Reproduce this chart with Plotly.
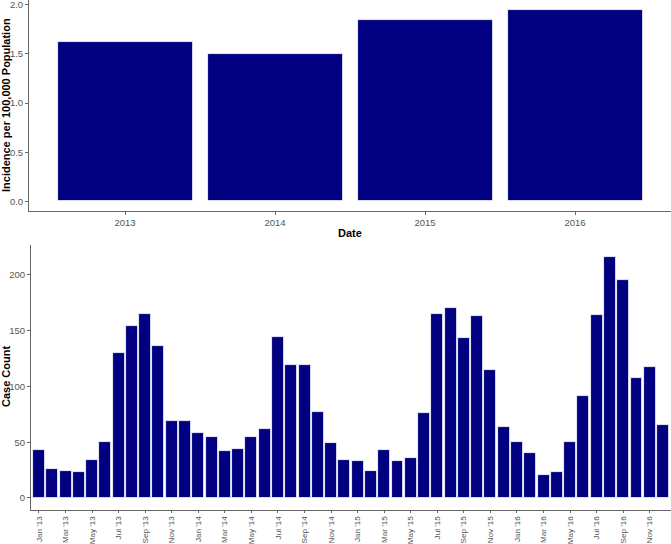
import plotly.graph_objects as go

# ---- data ----
years = ["2013", "2014", "2015", "2016"]
incidence = [1.62, 1.50, 1.84, 1.95]

month_names = ["Jan", "Feb", "Mar", "Apr", "May", "Jun",
               "Jul", "Aug", "Sep", "Oct", "Nov", "Dec"]
year_suffixes = ["13", "14", "15", "16"]
months = [f"{m} '{y}" for y in year_suffixes for m in month_names]
case_counts = [
    43, 26, 24, 23, 34, 50, 130, 154, 165, 136, 69, 69,
    58, 55, 42, 44, 55, 62, 144, 119, 119, 77, 49, 34,
    33, 24, 43, 33, 36, 76, 165, 170, 143, 163, 115, 64,
    50, 40, 21, 23, 50, 91, 164, 216, 195, 108, 117, 65,
]
tick_months = months[::2]

W, H = 671, 544
NAVY = "#000080"
TXT = "#555555"
AX = "#666666"
FONT = "Liberation Sans, Arial, sans-serif"

def px_x(p):
    return p / W

def px_y(p):
    return 1 - p / H

fig = go.Figure()
fig.add_trace(go.Bar(x=years, y=incidence, width=0.9,
                     marker=dict(color=NAVY, line=dict(color="white", width=0.8)),
                     xaxis="x", yaxis="y", showlegend=False))
fig.add_trace(go.Bar(x=months, y=case_counts, width=0.9,
                     marker=dict(color=NAVY, line=dict(color="white", width=0.8)),
                     xaxis="x2", yaxis="y2", showlegend=False))

def axis_common(size=9.5, ticklen=3):
    return dict(showgrid=False, zeroline=False, showline=True, linecolor=AX,
                linewidth=1, ticks="outside", ticklen=ticklen, tickcolor=AX,
                automargin=False, ticklabeloverflow="allow",
                tickfont=dict(family=FONT, size=size, color=TXT))

fig.update_layout(
    width=W, height=H,
    margin=dict(l=0, r=0, t=0, b=0, pad=0),
    paper_bgcolor="white", plot_bgcolor="white",
    font=dict(family=FONT),
    bargap=0,
    xaxis=dict(domain=[px_x(29), 1], anchor="y", type="category",
               range=[-0.64, 3.64], **axis_common()),
    yaxis=dict(domain=[px_y(211), 1], anchor="x", range=[-0.0975, 2.0475],
               tickvals=[0, 0.5, 1.0, 1.5, 2.0], tickformat=".1f", **axis_common()),
    xaxis2=dict(domain=[px_x(31), 1], anchor="y2", type="category",
                range=[-0.6, 47.6], tickvals=tick_months, ticktext=tick_months,
                tickangle=-90, **axis_common(8.1, 2)),
    yaxis2=dict(domain=[px_y(510), px_y(245)], anchor="x2", range=[-10.8, 226.8],
                tickvals=[0, 50, 100, 150, 200], **axis_common()),
)

title_font = dict(family=FONT, size=11, color="black")
fig.add_annotation(text="<b>Incidence per 100,000 Population</b>", textangle=-90,
                   x=px_x(6), y=px_y(105), xref="paper", yref="paper",
                   xanchor="center", yanchor="middle",
                   showarrow=False, font=title_font)
fig.add_annotation(text="<b>Date</b>", x=px_x(350), y=px_y(233),
                   xref="paper", yref="paper", xanchor="center", yanchor="middle",
                   showarrow=False, font=title_font)
fig.add_annotation(text="<b>Case Count</b>", textangle=-90,
                   x=px_x(6), y=px_y(377), xref="paper", yref="paper",
                   xanchor="center", yanchor="middle",
                   showarrow=False, font=title_font)

fig.write_html("out.html", config={"displayModeBar": False},
               post_script="document.body.style.margin='0';document.body.style.overflow='hidden';")
